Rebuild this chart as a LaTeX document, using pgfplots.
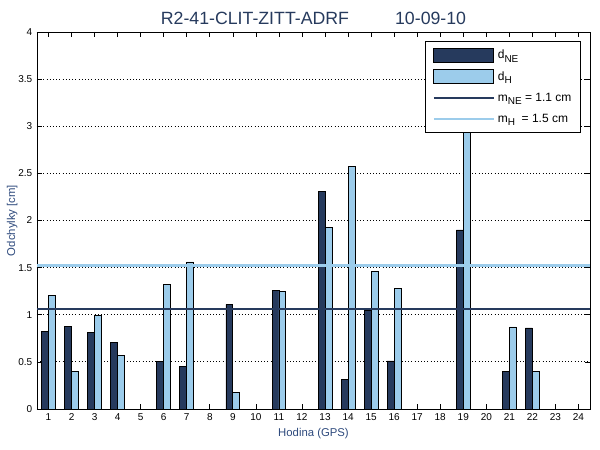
\documentclass[border=0pt]{standalone}
\usepackage{fontspec}
\setmainfont{Liberation Sans}
\usepackage{pgfplots}
\pgfplotsset{compat=1.18}
\definecolor{dne}{HTML}{263A5D}
\definecolor{dh}{HTML}{9CCCEB}
\definecolor{lbl}{HTML}{2E4A7D}
\newcommand{\sub}[1]{\raisebox{-0.55ex}{\fontsize{7.5}{8}\selectfont #1}}
\begin{document}
\begin{tikzpicture}
\begin{axis}[
  scale only axis, width=414.75pt, height=282.75pt,
  xmin=0.5, xmax=24.5, ymin=0, ymax=4,
  xtick={1,...,24}, ytick={0,0.5,1,1.5,2,2.5,3,3.5,4},
  yticklabels={0,0.5,1,1.5,2,2.5,3,3.5,4},
  tick align=inside, major tick length=3.5pt,
  ymajorgrids, grid style={black, dotted, line width=0.6pt},
  axis line style={line width=0.6pt}, tick style={black, line width=0.5pt},
  ticklabel style={font=\fontsize{7.5}{9}\selectfont},
  /pgf/number format/assume math mode=true,
  title={R2-41-CLIT-ZITT-ADRF\hspace{2.6em}10-09-10},
  title style={at={(axis description cs:0.5,1)}, anchor=base, yshift=-0.5pt, font=\fontsize{13.3}{15}\selectfont, text=dne},
  xlabel={Hodina (GPS)}, ylabel={Odchylky [cm]},
  xlabel style={at={(axis description cs:0.5,0)}, anchor=base, yshift=-21pt, font=\fontsize{8.5}{10}\selectfont, text=lbl},
  ylabel style={at={(axis description cs:-0.045,0.5)}, anchor=center, font=\fontsize{8.5}{10}\selectfont, text=lbl},
  legend style={at={(axis description cs:0.984,0.976)}, anchor=north east, draw=black, line width=0.6pt, fill=white,
    font=\fontsize{9}{11}\selectfont, inner xsep=5pt, inner ysep=4.5pt, row sep=4pt, cells={anchor=west}},
]
\addplot[ybar, fill=dne, draw=black, line width=0.6pt, bar width=0.3, bar shift=-0.15,
  legend image code/.code={\draw[fill=dne, draw=black, line width=0.6pt] (0pt,-5.25pt) rectangle (45pt,5.25pt);}]
  coordinates {(1,0.82) (2,0.88) (3,0.81) (4,0.71) (6,0.50) (7,0.45) (9,1.11) (11,1.26) (13,2.31) (14,0.31) (15,1.05) (16,0.51) (19,1.90) (21,0.40) (22,0.86)};
\addlegendentry{d\sub{NE}}
\addplot[ybar, fill=dh, draw=black, line width=0.6pt, bar width=0.3, bar shift=0.15,
  legend image code/.code={\draw[fill=dh, draw=black, line width=0.6pt] (0pt,-5.25pt) rectangle (45pt,5.25pt);}]
  coordinates {(1,1.20) (2,0.40) (3,0.99) (4,0.57) (6,1.32) (7,1.56) (9,0.18) (11,1.25) (13,1.93) (14,2.57) (15,1.46) (16,1.28) (19,3.30) (21,0.87) (22,0.40)};
\addlegendentry{d\sub{H}}
\addplot[dne, line width=2pt, legend image code/.code={\draw[dne, line width=2pt] (0pt,0pt) -- (45pt,0pt);}]
  coordinates {(0.5,1.06) (24.5,1.06)};
\addlegendentry{m\sub{NE} = 1.1 cm}
\addplot[dh, line width=2pt, legend image code/.code={\draw[dh, line width=2pt] (0pt,0pt) -- (45pt,0pt);}]
  coordinates {(0.5,1.52) (24.5,1.52)};
\addlegendentry{m\sub{H}\ \ = 1.5 cm}
\end{axis}
\pgfresetboundingbox
\useasboundingbox ([shift={(-27.75pt,-30.75pt)}]current axis.south west) rectangle ([shift={(7.5pt,24pt)}]current axis.north east);
\end{tikzpicture}
\end{document}
